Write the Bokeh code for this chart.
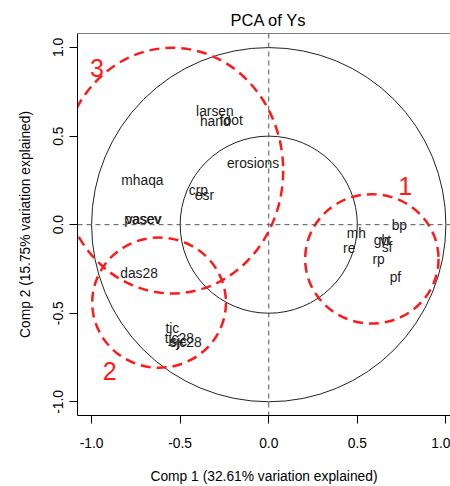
from bokeh.plotting import figure
from bokeh.models import Range1d, FixedTicker, PrintfTickFormatter, Span, ColumnDataSource
from bokeh.core.properties import value
from bokeh.embed import file_html
from bokeh.resources import INLINE

# ---- data ----
var_names = ["larsen", "hand", "foot", "erosions", "mhaqa", "crp", "esr",
             "pasev", "vasev", "das28", "tjc", "tjc28", "sjc", "sjc28",
             "bp", "mh", "re", "gh", "vt", "sf", "rp", "pf"]
comp1 = [-0.304, -0.302, -0.211, -0.089, -0.713, -0.397, -0.363,
         -0.712, -0.706, -0.732, -0.544, -0.505, -0.508, -0.470,
         0.737, 0.494, 0.454, 0.636, 0.660, 0.668, 0.620, 0.715]
comp2 = [0.641, 0.584, 0.587, 0.345, 0.249, 0.191, 0.163,
         0.028, 0.028, -0.277, -0.588, -0.645, -0.660, -0.664,
         -0.004, -0.047, -0.136, -0.089, -0.087, -0.130, -0.198, -0.296]

circle_radius = [1.0, 0.5]

group_labels = ["1", "2", "3"]
group_x = [0.582, -0.619, -0.545]
group_y = [-0.193, -0.440, 0.305]
group_w = [0.753, 0.755, 1.253]
group_h = [0.730, 0.735, 1.387]
group_label_x = [0.771, -0.898, -0.969]
group_label_y = [0.217, -0.824, 0.884]

x_ticks = [-1.0, -0.5, 0.0, 0.5, 1.0]
y_ticks = [-1.0, -0.5, 0.0, 0.5, 1.0]

FONT = "Liberation Sans"

p = figure(width=450, height=486, output_backend="svg", toolbar_location=None,
           x_range=Range1d(-1.0795, 1.026), y_range=Range1d(-1.077, 1.079),
           min_border_left=77, min_border_right=0, min_border_top=33, min_border_bottom=71,
           title="PCA of Ys")
p.grid.visible = False
p.outline_line_color = None
p.background_fill_color = "white"
p.border_fill_color = "white"

p.title.text_font = FONT
p.title.text_font_size = "16.5px"
p.title.text_font_style = "normal"
p.title.text_color = "black"
p.title.align = "left"
p.title.offset = 153
p.title.standoff = 9

for ax, ticks in ((p.xaxis[0], x_ticks), (p.yaxis[0], y_ticks)):
    ax.ticker = FixedTicker(ticks=ticks)
    ax.formatter = PrintfTickFormatter(format="%.1f")
    ax.major_tick_out = 8
    ax.major_tick_in = 0
    ax.minor_tick_out = 0
    ax.minor_tick_in = 0
    ax.axis_line_color = "black"
    ax.major_tick_line_color = "black"
    ax.major_label_text_font = FONT
    ax.major_label_text_font_size = "13.8px"
    ax.major_label_text_color = "black"
    ax.axis_label_text_font = FONT
    ax.axis_label_text_font_size = "13.8px"
    ax.axis_label_text_font_style = "normal"
    ax.axis_label_text_color = "black"

p.xaxis.axis_label = "Comp 1 (32.61% variation explained)"
p.yaxis.axis_label = "Comp 2 (15.75% variation explained)"
p.xaxis.major_label_standoff = 14
p.xaxis.axis_label_standoff = 18
p.yaxis.major_label_orientation = "vertical"
p.yaxis.major_label_standoff = 6
p.yaxis.axis_label_standoff = 18

# top frame edge
p.add_layout(Span(location=1.079, dimension="width", line_color="black", line_width=1))

# reference lines
p.add_layout(Span(location=0, dimension="width", line_color="#555555", line_width=1, line_dash="5 4"))
p.add_layout(Span(location=0, dimension="height", line_color="#555555", line_width=1, line_dash="5 4"))

# correlation circles
p.ellipse(x=[0.0] * len(circle_radius), y=[0.0] * len(circle_radius),
          width=[2 * r for r in circle_radius], height=[2 * r for r in circle_radius],
          fill_color=None, line_color="#222222", line_width=1)

# variable labels
src = ColumnDataSource(dict(x=comp1, y=comp2, t=var_names))
p.text(x="x", y="y", text="t", source=src, text_align="center", text_baseline="middle",
       text_font=value(FONT), text_font_size="13.8px", text_color="#1a1a1a")

# red group ellipses
gsrc = ColumnDataSource(dict(x=group_x, y=group_y, w=group_w, h=group_h,
                             lx=group_label_x, ly=group_label_y, t=group_labels))
p.ellipse(x="x", y="y", width="w", height="h", source=gsrc, fill_color=None,
          line_color="#ff1a1a", line_width=2.5, line_dash="10 6")
p.text(x="lx", y="ly", text="t", source=gsrc, text_align="center", text_baseline="middle",
       text_font=value(FONT), text_font_size="25px", text_color="#ff1a1a")

open("out.html", "w").write(file_html(p, INLINE))
